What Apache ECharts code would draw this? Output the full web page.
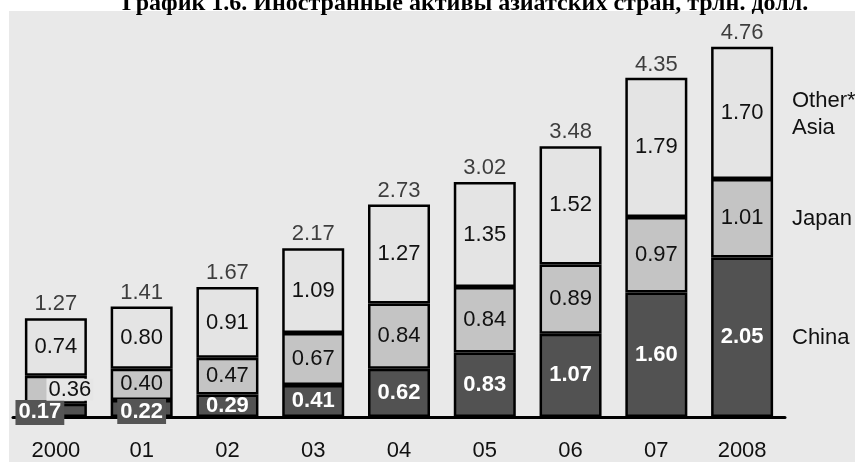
<!DOCTYPE html>
<html>
<head>
<meta charset="utf-8">
<script src="https://cdn.jsdelivr.net/npm/echarts@6/dist/echarts.min.js"></script>
<style>
  html, body { margin: 0; padding: 0; background: #fff; }
  #chart { width: 855px; height: 462px; }
</style>
</head>
<body>
<div id="chart"></div>
<script>
const years = ['2000', '01', '02', '03', '04', '05', '06', '07', '2008'];
const china = [0.17, 0.22, 0.29, 0.41, 0.62, 0.83, 1.07, 1.60, 2.05];
const japan = [0.36, 0.40, 0.47, 0.67, 0.84, 0.84, 0.89, 0.97, 1.01];
const otherAsia = [0.74, 0.80, 0.91, 1.09, 1.27, 1.35, 1.52, 1.79, 1.70];
const totals = [1.27, 1.41, 1.67, 2.17, 2.73, 3.02, 3.48, 4.35, 4.76];

const FONT = 'Liberation Sans, Arial, sans-serif';
const FS = 22;
const border = { borderColor: '#000', borderWidth: 2.5 };

const chart = echarts.init(document.getElementById('chart'));

// first two years have their small labels pulled out of the bar
const chinaData = china.map((v, i) => {
    if (i === 0) {
        return { value: v, label: { offset: [-16, 2], backgroundColor: '#555', padding: [2, 3, 1, 3] } };
    }
    if (i === 1) {
        return { value: v, label: { offset: [0, 3], backgroundColor: '#555', padding: [2, 3, 1, 3] } };
    }
    return v;
});
const japanData = japan.map((v, i) => {
    if (i === 0) {
        return { value: v, label: { offset: [14, 0], backgroundColor: '#e6e6e6', padding: [0, 2, 0, 2] } };
    }
    return v;
});

chart.setOption({
    animation: false,
    title: {
        text: 'График 1.6. Иностранные активы азиатских стран, трлн. долл.',
        left: 117,
        top: -13,
        textStyle: { fontFamily: 'Liberation Serif, Times New Roman, serif', fontWeight: 'bold', fontSize: 24, color: '#000' }
    },
    graphic: [
        { type: 'rect', left: 9, top: 11, shape: { width: 846, height: 451 }, style: { fill: '#e9e9e9' }, z: -10 },
        { type: 'text', left: 792, top: 87, style: { text: 'Other*\nAsia', font: FS + 'px ' + FONT, fill: '#111', lineHeight: 27 } },
        { type: 'text', left: 792, top: 208, style: { text: 'Japan', font: FS + 'px ' + FONT, fill: '#111' } },
        { type: 'text', left: 792, top: 327, style: { text: 'China', font: FS + 'px ' + FONT, fill: '#111' } }
    ],
    grid: { left: 13, right: 70, top: 28, bottom: 44 },
    xAxis: {
        type: 'category',
        data: years,
        axisLine: { lineStyle: { color: '#000', width: 3 } },
        axisTick: { show: false },
        axisLabel: { fontFamily: FONT, fontSize: FS, color: '#111', margin: 23 }
    },
    yAxis: { type: 'value', min: 0, max: 5, show: false },
    series: [
        {
            name: 'China', type: 'bar', stack: 'a', barWidth: 62,
            data: chinaData,
            itemStyle: Object.assign({ color: '#525252' }, border),
            label: { show: true, position: 'inside', color: '#fff', fontWeight: 'bold', fontFamily: FONT, fontSize: FS, formatter: p => p.value.toFixed(2) }
        },
        {
            name: 'Japan', type: 'bar', stack: 'a', barWidth: 62,
            data: japanData,
            itemStyle: Object.assign({ color: '#c4c4c4' }, border),
            label: { show: true, position: 'inside', color: '#111', fontFamily: FONT, fontSize: FS, formatter: p => p.value.toFixed(2) }
        },
        {
            name: 'Other Asia', type: 'bar', stack: 'a', barWidth: 62,
            data: otherAsia,
            itemStyle: Object.assign({ color: '#e4e4e4' }, border),
            label: { show: true, position: 'inside', color: '#111', fontFamily: FONT, fontSize: FS, formatter: p => p.value.toFixed(2) }
        },
        {
            name: 'Total', type: 'scatter', symbolSize: 0,
            data: totals,
            label: { show: true, position: 'top', distance: 3, color: '#111', fontFamily: FONT, fontSize: FS, formatter: p => p.value.toFixed(2) }
        }
    ]
});
</script>
</body>
</html>
